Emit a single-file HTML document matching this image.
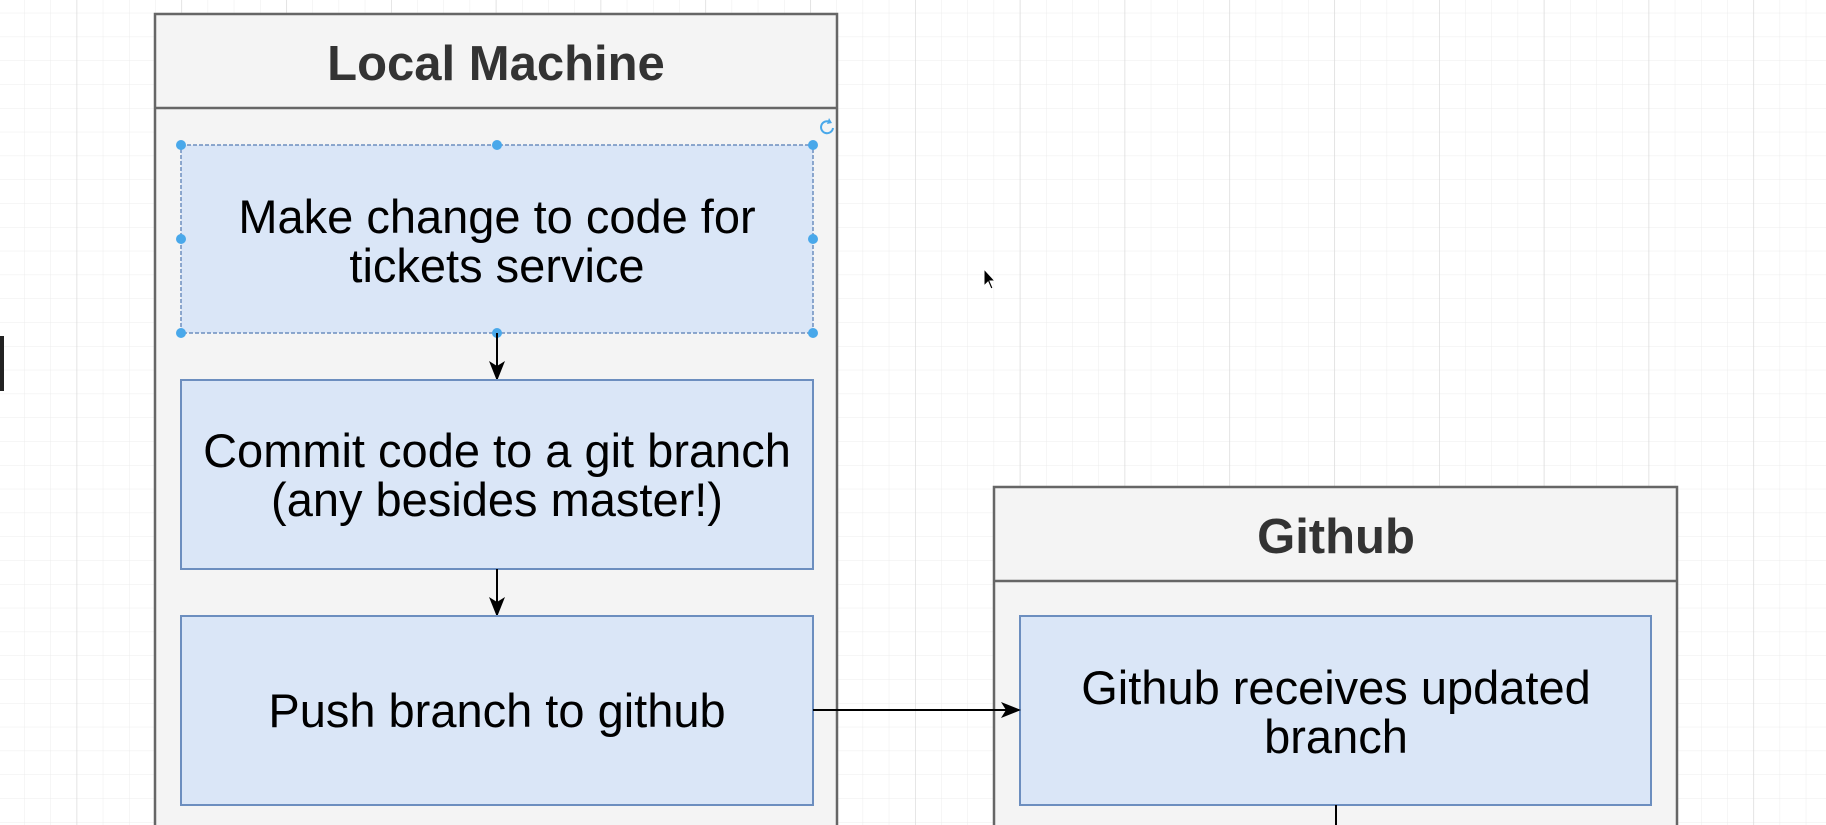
<!DOCTYPE html>
<html><head><meta charset="utf-8"><style>
html,body{margin:0;padding:0;background:#fff;overflow:hidden;width:1826px;height:825px;}
svg{display:block;}
text{font-family:"Liberation Sans",Arial,sans-serif;}
</style></head><body>
<svg width="1826" height="825" viewBox="0 0 1826 825" xmlns="http://www.w3.org/2000/svg">
<defs>
<pattern id="minor" x="24.2" y="12.8" width="26.2" height="23.8" patternUnits="userSpaceOnUse">
<path d="M0 0V23.8M0 0H26.2" stroke="#ececec" stroke-width="1" fill="none"/>
</pattern>
<pattern id="major" x="76.6" y="0" width="104.8" height="825" patternUnits="userSpaceOnUse">
<path d="M0 0V825" stroke="#d6d6d6" stroke-width="1.2" fill="none"/>
</pattern>
<marker id="ah" markerWidth="20" markerHeight="20" refX="18" refY="10" orient="auto" markerUnits="userSpaceOnUse">
<path d="M0 2L20 10L0 18L5 10Z" fill="#000"/>
</marker>
</defs>
<rect width="1826" height="825" fill="#fff"/>
<rect width="1826" height="825" fill="url(#minor)"/>
<rect width="1826" height="825" fill="url(#major)"/>
<rect x="0" y="336" width="4" height="55" fill="#222"/>

<!-- Local Machine -->
<rect x="155" y="14" width="682" height="811" fill="#f4f4f4"/>
<path d="M155 825V14H837V825" fill="none" stroke="#666" stroke-width="2.5"/>
<line x1="155" y1="108" x2="837" y2="108" stroke="#666" stroke-width="2.5"/>
<text x="496" y="80" text-anchor="middle" font-size="49" font-weight="bold" fill="#333">Local Machine</text>

<rect x="181" y="145" width="632" height="188" fill="#dae6f7" stroke="#6c8ebf" stroke-width="1.5" stroke-dasharray="4 2"/>
<text x="497" y="233" text-anchor="middle" font-size="47" fill="#000">Make change to code for</text>
<text x="497" y="282" text-anchor="middle" font-size="47" fill="#000">tickets service</text>
<g fill="#49a8ea">
<circle cx="181" cy="145" r="5"/><circle cx="497" cy="145" r="5"/><circle cx="813" cy="145" r="5"/>
<circle cx="181" cy="239" r="5"/><circle cx="813" cy="239" r="5"/>
<circle cx="181" cy="333" r="5"/><circle cx="497" cy="333" r="5"/><circle cx="813" cy="333" r="5"/>
</g>
<path d="M833 128a6 6 0 1 1-3-6" stroke="#49a8ea" stroke-width="2" fill="none"/>
<path d="M829 118l3 5-5 1z" fill="#49a8ea"/>

<line x1="497" y1="333" x2="497" y2="379" stroke="#000" stroke-width="2" marker-end="url(#ah)"/>
<rect x="181" y="380" width="632" height="189" fill="#dae6f7" stroke="#6c8ebf" stroke-width="2"/>
<text x="497" y="467" text-anchor="middle" font-size="47" fill="#000">Commit code to a git branch</text>
<text x="497" y="516" text-anchor="middle" font-size="47" fill="#000">(any besides master!)</text>

<line x1="497" y1="569" x2="497" y2="615" stroke="#000" stroke-width="2" marker-end="url(#ah)"/>
<rect x="181" y="616" width="632" height="189" fill="#dae6f7" stroke="#6c8ebf" stroke-width="2"/>
<text x="497" y="727" text-anchor="middle" font-size="47" fill="#000">Push branch to github</text>

<!-- Github -->
<rect x="994" y="487" width="683" height="338" fill="#f4f4f4"/>
<path d="M994 825V487H1677V825" fill="none" stroke="#666" stroke-width="2.5"/>
<line x1="994" y1="581" x2="1677" y2="581" stroke="#666" stroke-width="2.5"/>
<text x="1336" y="553" text-anchor="middle" font-size="49" font-weight="bold" fill="#333">Github</text>
<rect x="1020" y="616" width="631" height="189" fill="#dae6f7" stroke="#6c8ebf" stroke-width="2"/>
<text x="1336" y="704" text-anchor="middle" font-size="47" fill="#000">Github receives updated</text>
<text x="1336" y="753" text-anchor="middle" font-size="47" fill="#000">branch</text>
<line x1="1336" y1="805" x2="1336" y2="825" stroke="#000" stroke-width="2"/>

<line x1="813" y1="710" x2="1019" y2="710" stroke="#000" stroke-width="2" marker-end="url(#ah)"/>

<!-- cursor -->
<path d="M984 269v17l4-4 3 7 2-1-3-7h5z" fill="#000" stroke="#fff" stroke-width="1"/>
</svg>
</body></html>
